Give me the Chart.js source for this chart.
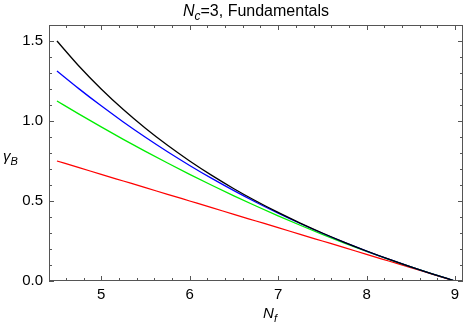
<!DOCTYPE html>
<html><head><meta charset="utf-8">
<script src="https://cdn.jsdelivr.net/npm/chart.js@4/dist/chart.umd.min.js"></script>
<style>html,body{margin:0;padding:0;background:#fff;}</style>
</head><body>
<canvas id="c" width="471" height="327" style="width:471px;height:327px;display:block"></canvas>
<script>
// Flavour number N_f
const nf = [4.5,4.75,5,5.25,5.5,5.75,6,6.25,6.5,6.75,7,7.25,7.5,7.75,8,8.25,8.5,8.75,9];
// gamma_B curves
const blackVals = [1.5,1.3421,1.2,1.0714,0.9545,0.8478,0.75,0.66,0.5769,0.5,0.4286,0.3621,0.3,0.2419,0.1875,0.1364,0.0882,0.0429,0];
const blueVals  = [1.3125,1.2008,1.0947,0.9939,0.8984,0.8079,0.7223,0.6411,0.5646,0.4922,0.4239,0.3594,0.2986,0.2412,0.1873,0.1363,0.0882,0.0429,0];
const greenVals = [1.125,1.0428,0.963,0.8854,0.8102,0.7373,0.6667,0.5983,0.5324,0.4688,0.4074,0.3484,0.2917,0.2372,0.1852,0.1354,0.0879,0.0429,0];
const redVals   = [0.75,0.7083,0.6667,0.625,0.5833,0.5417,0.5,0.4583,0.4167,0.375,0.3333,0.2917,0.25,0.2083,0.1667,0.125,0.0833,0.0417,0];
// tick labels
const xTicks = [5,6,7,8,9];
const yTicks = [0,0.5,1.0,1.5];
const yTickLabels = ["0.0","0.5","1.0","1.5"];

const FONT = "'Liberation Sans', Arial, sans-serif";
const FRAME = '#555';

function mk(vals){ return nf.map((x,i)=>({x:x,y:vals[i]})); }
function ds(vals,color){
  return {data:mk(vals),borderColor:color,borderWidth:1.3,pointRadius:0,fill:false,cubicInterpolationMode:'monotone'};
}

function drawSub(ctx, parts, x, y, align){
  let total=0;
  parts.forEach(p=>{ctx.font=(p[2]?'italic ':'')+p[1]+'px '+FONT; p.w=ctx.measureText(p[0]).width; total+=p.w;});
  let cx = align==='center'? x-total/2 : (align==='right'? x-total : x);
  ctx.textBaseline='alphabetic'; ctx.textAlign='left';
  parts.forEach(p=>{ctx.font=(p[2]?'italic ':'')+p[1]+'px '+FONT; ctx.fillText(p[0],cx,y+(p[3]||0)); cx+=p.w;});
}

const framePlugin = {
  id:'frame',
  afterDraw(chart){
    const ctx=chart.ctx, a=chart.chartArea, xs=chart.scales.x, ys=chart.scales.y;
    ctx.save();
    ctx.strokeStyle=FRAME; ctx.lineWidth=1;
    ctx.strokeRect(a.left+0.5,a.top+0.5,a.right-a.left-1,a.bottom-a.top-1);
    ctx.beginPath();
    for(let k=0;k<=60;k++){
      const v=4.4+k*0.2; if(v<xs.min-1e-9||v>xs.max+1e-9) continue;
      const major=Math.abs(v-Math.round(v))<1e-6;
      const L=major?5:3;
      const px=Math.round(xs.getPixelForValue(v))+0.5;
      ctx.moveTo(px,a.bottom); ctx.lineTo(px,a.bottom-L);
      ctx.moveTo(px,a.top); ctx.lineTo(px,a.top+L);
    }
    for(let k=0;k<=16;k++){
      const v=k*0.1; if(v>ys.max+1e-9) continue;
      const major=(k%5===0);
      const L=major?5:3;
      const py=Math.round(ys.getPixelForValue(v))+0.5;
      ctx.moveTo(a.left,py); ctx.lineTo(a.left+L,py);
      ctx.moveTo(a.right,py); ctx.lineTo(a.right-L,py);
    }
    ctx.stroke();
    ctx.fillStyle='#000';
    drawSub(ctx,[["N",16,true,0],["c",12,true,4],["=3, Fundamentals",16,false,0]],(a.left+a.right)/2,16,'center');
    drawSub(ctx,[["N",15,true,0],["f",11,true,4]],(a.left+a.right)/2+14,318,'center');
    drawSub(ctx,[["γ",15,true,0],["B",11,true,4]],3,161,'left');
    ctx.restore();
  }
};

new Chart(document.getElementById('c'),{
  type:'line',
  data:{datasets:[ds(blackVals,'#000000'),ds(blueVals,'#0000ff'),ds(greenVals,'#00ee00'),ds(redVals,'#ff0000')]},
  options:{
    responsive:false,animation:false,
    layout:{padding:{top:25,right:8,left:0,bottom:0}},
    plugins:{legend:{display:false},title:{display:false},tooltip:{enabled:false}},
    scales:{
      x:{type:'linear',min:4.41,max:9.09,
        grid:{display:false,drawTicks:false},border:{display:false},
        afterBuildTicks(s){s.ticks=xTicks.map(v=>({value:v}));},
        afterFit(s){s.height=46;},
        ticks:{padding:5,color:'#000',font:{family:FONT,size:15},callback:v=>String(v),maxRotation:0}},
      y:{type:'linear',min:0,max:1.6,
        grid:{display:false,drawTicks:false},border:{display:false},
        afterBuildTicks(s){s.ticks=yTicks.map(v=>({value:v}));},
        afterFit(s){s.width=49;},
        ticks:{padding:6,color:'#000',font:{family:FONT,size:15},callback:(v)=>yTickLabels[yTicks.indexOf(v)]}}
    }
  },
  plugins:[framePlugin]
});
</script>
</body></html>
